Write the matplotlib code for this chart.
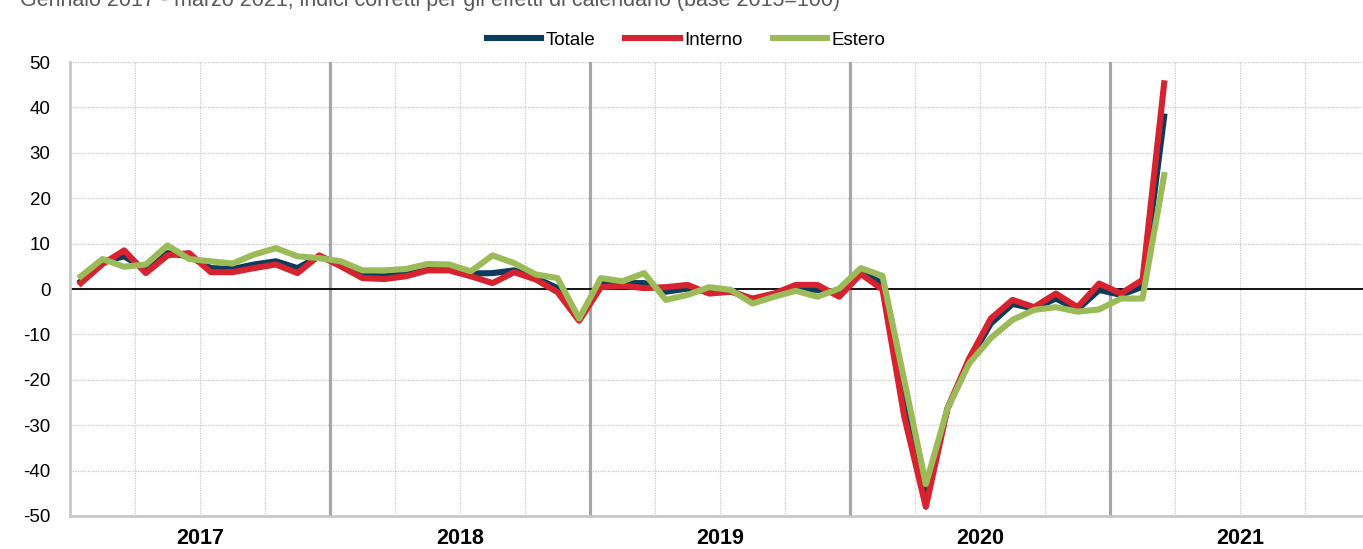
import matplotlib
matplotlib.use("Agg")
import matplotlib.pyplot as plt
import numpy as np

plt.rcParams['font.family'] = ['Liberation Sans', 'DejaVu Sans']
plt.rcParams['axes.unicode_minus'] = False

anni = ['2017', '2018', '2019', '2020', '2021']

# variazioni tendenziali mensili, gen 2017 - mar 2021
totale = [1.7, 6.0, 7.2, 4.3, 7.9, 7.2, 4.6, 4.4, 5.4, 6.1, 4.6, 7.2,
          5.4, 2.9, 2.8, 3.3, 4.6, 4.4, 3.4, 3.5, 4.1, 2.4, 0.2, -6.8,
          1.3, 1.3, 1.3, -0.6, 0.1, -0.6, -0.4, -2.4, -1.2, 0.1, -0.2, -1.0,
          3.8, 1.2, -25.0, -46.0, -26.3, -15.8, -7.6, -3.3, -4.3, -2.1, -4.5, -0.2,
          -1.3, 0.5, 38.0]
interno = [1.3, 5.5, 8.5, 3.5, 7.4, 7.9, 3.7, 3.7, 4.6, 5.4, 3.5, 7.4,
           5.0, 2.4, 2.2, 2.8, 4.1, 4.1, 2.8, 1.3, 3.7, 2.1, -0.7, -7.0,
           0.4, 0.7, 0.2, 0.4, 0.9, -1.0, -0.6, -2.1, -1.0, 0.9, 0.9, -1.7,
           3.3, -0.1, -28.0, -48.0, -26.3, -15.3, -6.5, -2.4, -4.0, -1.0, -4.0, 1.2,
           -1.0, 2.0, 45.3]
estero = [2.8, 6.6, 4.9, 5.4, 9.6, 6.6, 6.1, 5.6, 7.6, 9.0, 7.2, 6.8,
          6.1, 4.1, 4.1, 4.4, 5.5, 5.4, 3.9, 7.4, 5.7, 3.2, 2.4, -6.5,
          2.4, 1.7, 3.5, -2.4, -1.3, 0.4, -0.2, -3.2, -1.7, -0.4, -1.7, 0.1,
          4.6, 2.9, -20.0, -43.0, -26.3, -16.4, -10.8, -6.8, -4.6, -4.0, -5.0, -4.5,
          -2.1, -2.1, 25.1]

x = np.arange(len(totale)) + 0.5

fig = plt.figure(figsize=(13.63, 5.49), dpi=100)
ax = fig.add_axes([70 / 1363, 1 - 516 / 549, 1300 / 1363, 454 / 549])

# griglia
for v in range(-50, 51, 10):
    if v != 0:
        ax.axhline(v, color='#c8c8c8', lw=0.9, ls=(0, (1, 1)), zorder=0)
for m in range(3, 60, 3):
    if m % 12 != 0:
        ax.axvline(m, color='#c8c8c8', lw=0.9, ls=(0, (1, 1)), zorder=0)
for m in range(12, 60, 12):
    ax.axvline(m, color='#a6a6a6', lw=2.3, zorder=1)
ax.axhline(0, color='black', lw=1.3, zorder=2)

ax.plot(x, totale, color='#0b3c5d', lw=4.4, label='Totale', zorder=3)
ax.plot(x, interno, color='#d7232f', lw=4.4, label='Interno', zorder=4)
ax.plot(x, estero, color='#9bbb59', lw=4.4, label='Estero', zorder=5)

ax.set_xlim(0, 60)
ax.set_ylim(-50, 50)
ax.set_yticks(range(-50, 51, 10))
ax.tick_params(axis='y', length=0, pad=14, labelsize=13.5)
ax.set_xticks([6, 18, 30, 42, 54])
ax.set_xticklabels(anni, fontsize=15.5, fontweight='bold')
ax.tick_params(axis='x', length=0, pad=9)

for s in ['top', 'right']:
    ax.spines[s].set_visible(False)
for s in ['left', 'bottom']:
    ax.spines[s].set_color('#c8c8c8')
    ax.spines[s].set_linewidth(2)

ax.legend(loc='center', bbox_to_anchor=(0.474, 1.048), ncol=3, frameon=False,
          fontsize=13.5, handlelength=2.9, handletextpad=0.25, columnspacing=1.6)

fig.text(20 / 1363, 1 - 6 / 549,
         'Gennaio 2017 - marzo 2021, indici corretti per gli effetti di calendario (base 2015=100)',
         fontsize=15.5, color='#595959', va='baseline', ha='left')

fig.savefig('out.png', dpi=100)
